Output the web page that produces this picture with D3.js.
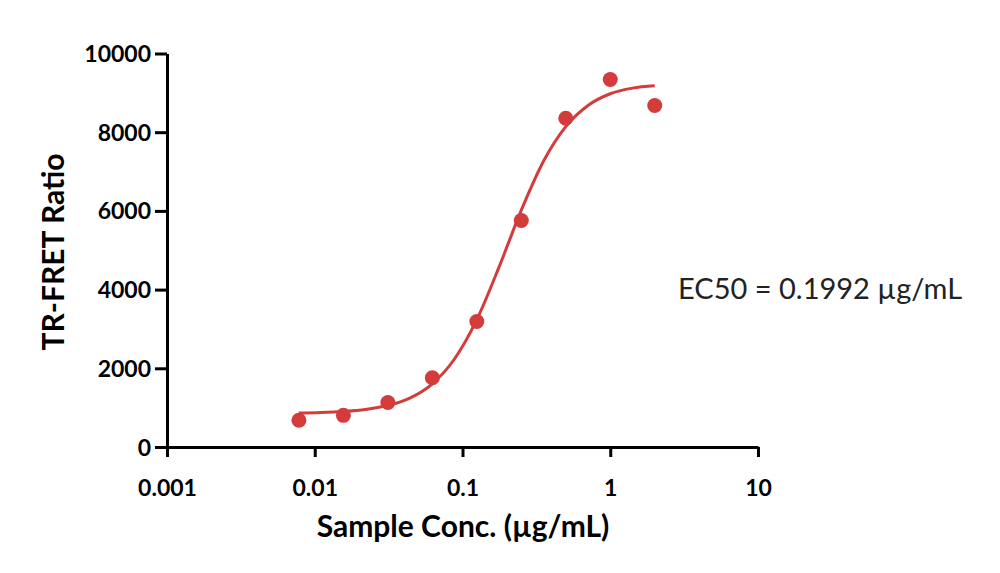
<!DOCTYPE html>
<html>
<head>
<meta charset="utf-8">
<style>
body { margin: 0; background: #ffffff; }
#chart { display: block; }
.axis path, .axis line { stroke: #000; stroke-width: 3px; }
.axis text { font-family: Lato, "Open Sans", sans-serif; font-weight: bold; font-size: 23px; fill: #000; }
.title { font-family: Lato, "Open Sans", sans-serif; font-weight: bold; font-size: 30px; fill: #000; }
.note { font-family: Lato, "Open Sans", sans-serif; font-size: 29px; fill: #222; }
</style>
</head>
<body>
<svg id="chart" width="1000" height="573"></svg>
<script src="https://cdn.jsdelivr.net/npm/d3@7"></script>
<script>

// measured points (two-fold dilutions)
var conc = [0.0078125, 0.015625, 0.03125, 0.0625, 0.125, 0.25, 0.5, 1, 2];
var ratio = [680, 805, 1130, 1760, 3190, 5755, 8355, 9340, 8680];

// fitted curve
var fitConc = [0.0078, 0.011, 0.0156, 0.022, 0.031, 0.044, 0.0625, 0.088, 0.125, 0.177, 0.25, 0.354, 0.5, 0.707, 1, 1.414, 2];
var fitRatio = [863, 876, 902, 951, 1053, 1243, 1607, 2230, 3237, 4578, 6018, 7268, 8142, 8679, 8977, 9120, 9180];

var xTicks = [0.001, 0.01, 0.1, 1, 10];
var xTickLabels = ["0.001", "0.01", "0.1", "1", "10"];
var yTicks = [0, 2000, 4000, 6000, 8000, 10000];

var red = "#d43c3c";

var svg = d3.select("#chart");

var x = d3.scaleLog().domain([0.001, 10]).range([167, 758]);
var y = d3.scaleLinear().domain([0, 10000]).range([447, 53.5]);

// axes
svg.append("g")
	.attr("class", "axis")
	.attr("transform", "translate(0,447)")
	.call(d3.axisBottom(x).tickValues(xTicks).tickSize(10).tickSizeOuter(0)
		.tickFormat(function(d, i) { return xTickLabels[i]; }))
	.call(function(g) { g.selectAll("text").attr("dy", "1.55em"); });

svg.append("g")
	.attr("class", "axis")
	.attr("transform", "translate(167,0)")
	.call(d3.axisLeft(y).tickValues(yTicks).tickSize(12).tickSizeOuter(0).tickFormat(d3.format("d")))
	.call(function(g) { g.selectAll("text").attr("x", -16).attr("dy", "0.35em"); });

// curve
var line = d3.line()
	.x(function(d, i) { return x(fitConc[i]); })
	.y(function(d) { return y(d); })
	.curve(d3.curveMonotoneX);

svg.append("path")
	.datum(fitRatio)
	.attr("d", line)
	.attr("fill", "none")
	.attr("stroke", red)
	.attr("stroke-width", 3);

// points
svg.append("g")
	.selectAll("circle")
	.data(ratio)
	.enter().append("circle")
	.attr("cx", function(d, i) { return x(conc[i]); })
	.attr("cy", function(d) { return y(d); })
	.attr("r", 7.5)
	.attr("fill", red);

// titles
svg.append("text")
	.attr("class", "title")
	.attr("x", 463)
	.attr("y", 537)
	.attr("text-anchor", "middle")
	.text("Sample Conc. (µg/mL)");

svg.append("text")
	.attr("class", "title")
	.attr("transform", "translate(64,252) rotate(-90)")
	.attr("text-anchor", "middle")
	.text("TR-FRET Ratio");

svg.append("text")
	.attr("class", "note")
	.attr("x", 678)
	.attr("y", 299)
	.text("EC50 = 0.1992 µg/mL");

</script>
</body>
</html>
